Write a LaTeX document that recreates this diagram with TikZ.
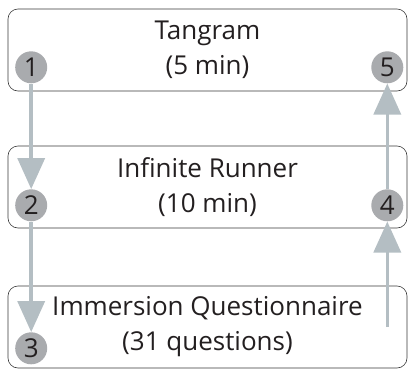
\documentclass[tikz,border=0pt]{standalone}
\usepackage{fontspec}
\setmainfont{Open Sans}
\usepackage{tikz}
\usetikzlibrary{arrows.meta}
\definecolor{boxline}{HTML}{3A3A3A}
\definecolor{stepgray}{HTML}{A9ABAE}
\definecolor{flowgray}{HTML}{B4BEC3}
\definecolor{numtext}{HTML}{231F20}
\tikzset{
    task/.style={
           rectangle,
           rounded corners=10pt,
           draw=boxline, semithick,
           minimum width=399pt,
           minimum height=82pt,
           inner sep=0pt,
           align=center,
           text=numtext,
           font=\fontsize{26}{35}\selectfont,
           },
    stepnum/.style={
           circle,
           fill=stepgray,
           minimum size=32pt,
           inner sep=0pt,
           text=numtext,
           font=\fontsize{26}{26}\selectfont,
           },
    flow/.style={
           draw=flowgray,
           line width=3.5pt,
           -{Triangle[width=27pt,length=31pt]},
           },
}

\begin{document}
\begin{tikzpicture}[x=1pt,y=-1pt]
    \useasboundingbox (0,0) rectangle (408,370);

    % the three tasks, top to bottom
    \node[task, anchor=center] (tangram) at (207.5,50)
    {Tangram\\(5 min)};

    \node[task, anchor=center] (runner) at (207.5,187)
    {Infinite Runner\\(10 min)};

    \node[task, anchor=center] (quest) at (207.5,327)
    {Immersion Questionnaire\\(31 questions)};

    % numbered steps (left side down, right side up)
    \node[stepnum] (s1) at ([xshift=23.5pt,yshift=24pt]tangram.south west) {1};
    \node[stepnum] (s2) at ([xshift=23.5pt,yshift=23pt]runner.south west) {2};
    \node[stepnum] (s3) at ([xshift=23.5pt,yshift=20pt]quest.south west) {3};
    \node[stepnum] (s4) at ([xshift=-20pt,yshift=23pt]runner.south east) {4};
    \node[stepnum] (s5) at ([xshift=-20pt,yshift=24pt]tangram.south east) {5};
    \coordinate (qstart) at ([xshift=-20pt]quest.east);

    % order of the session
    \path[flow] (s1) -- (s2);
    \path[flow] (s2) -- (s3);
    \path[flow] (qstart) -- (s4);
    \path[flow] (s4) -- (s5);
\end{tikzpicture}
\end{document}
